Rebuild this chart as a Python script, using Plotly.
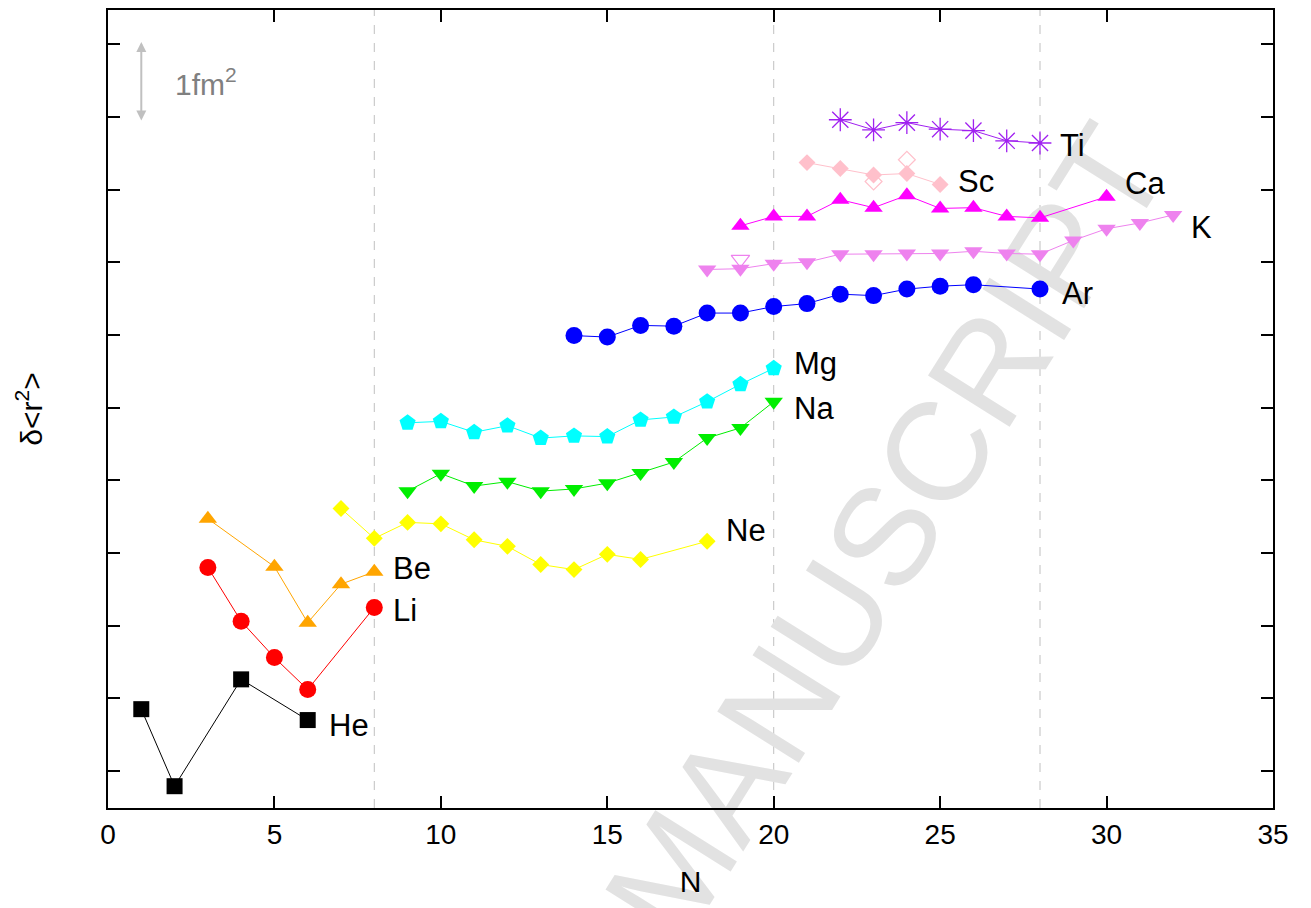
import plotly.graph_objects as go

# ---- data (N, delta<r^2> in tick units) ----
he_n = [1, 2, 4, 6]
he_y = [0.85, -0.21, 1.26, 0.70]
li_n = [3, 4, 5, 6, 8]
li_y = [2.80, 2.06, 1.56, 1.12, 2.25]
be_n = [3, 5, 6, 7, 8]
be_y = [3.47, 2.81, 2.04, 2.57, 2.74]
ne_n = [7, 8, 9, 10, 11, 12, 13, 14, 15, 16, 18]
ne_y = [3.61, 3.20, 3.42, 3.40, 3.18, 3.09, 2.84, 2.77, 2.98, 2.91, 3.16]
na_n = [9, 10, 11, 12, 13, 14, 15, 16, 17, 18, 19, 20]
na_y = [3.85, 4.09, 3.92, 3.98, 3.85, 3.88, 3.96, 4.10, 4.25, 4.58, 4.72, 5.08]
mg_n = [9, 10, 11, 12, 13, 14, 15, 16, 17, 18, 19, 20]
mg_y = [4.79, 4.81, 4.66, 4.75, 4.58, 4.61, 4.60, 4.83, 4.87, 5.08, 5.32, 5.54]
ar_n = [14, 15, 16, 17, 18, 19, 20, 21, 22, 23, 24, 25, 26, 28]
ar_y = [5.99, 5.97, 6.13, 6.12, 6.30, 6.30, 6.39, 6.43, 6.56, 6.54, 6.63, 6.67, 6.69, 6.63]
k_n = [18, 19, 20, 21, 22, 23, 24, 25, 26, 27, 28, 29, 30, 31, 32]
k_y = [6.90, 6.91, 6.98, 7.00, 7.11, 7.11, 7.12, 7.12, 7.15, 7.12, 7.11, 7.30, 7.46, 7.54, 7.65]
k_open_n = [19]
k_open_y = [7.04]
ca_n = [19, 20, 21, 22, 23, 24, 25, 26, 27, 28, 30]
ca_y = [7.50, 7.63, 7.63, 7.86, 7.75, 7.92, 7.74, 7.75, 7.63, 7.61, 7.90]
sc_n = [21, 22, 23, 24, 25]
sc_y = [8.37, 8.29, 8.20, 8.22, 8.07]
sc_open_n = [23, 24]
sc_open_y = [8.11, 8.41]
ti_n = [22, 23, 24, 25, 26, 27, 28]
ti_y = [8.96, 8.82, 8.92, 8.83, 8.81, 8.67, 8.64]

x_ticks = [0, 5, 10, 15, 20, 25, 30, 35]
y_ticks = [0, 1, 2, 3, 4, 5, 6, 7, 8, 9, 10]
shell_closures = [8, 20, 28]

FONT = "Liberation Sans, Arial, sans-serif"

series = [
    # name, n, y, color, symbol, size, label shift (x, y)
    ("He", he_n, he_y, "#000000", "square", 16, (19, -5)),
    ("Li", li_n, li_y, "#ff0000", "circle", 17, (17, -3)),
    ("Be", be_n, be_y, "#ffa500", "triangle-up", 16, (17, 3)),
    ("Ne", ne_n, ne_y, "#ffff00", "diamond", 13, (17, 11)),
    ("Na", na_n, na_y, "#00ee00", "triangle-down", 16, (18, -7)),
    ("Mg", mg_n, mg_y, "#00ffff", "pentagon", 17, (18, 5)),
    ("Ar", ar_n, ar_y, "#0000ff", "circle", 17, (20, -4)),
    ("K", k_n, k_y, "#ee82ee", "triangle-down", 16, (16, -13)),
    ("Ca", ca_n, ca_y, "#ff00ff", "triangle-up", 16, (16, 13)),
    ("Sc", sc_n, sc_y, "#ffc0cb", "diamond", 13, (16, 3)),
    ("Ti", ti_n, ti_y, "#a020f0", "asterisk", 19, (18, -2)),
]

fig = go.Figure()
annotations = []
for name, n, y, col, sym, sz, (dx, dy) in series:
    if sym == "asterisk":
        marker = dict(symbol=sym, size=sz, color=col, line=dict(color=col, width=1.3))
    else:
        marker = dict(symbol=sym, size=sz, color=col, line=dict(width=0))
    fig.add_trace(go.Scatter(x=n, y=y, mode="lines+markers", name=name,
                             line=dict(color=col, width=1), marker=marker,
                             showlegend=False))
    annotations.append(dict(x=n[-1], y=y[-1], xref="x", yref="y", text=name,
                            showarrow=False, xanchor="left", yanchor="middle",
                            xshift=dx, yshift=dy,
                            font=dict(family=FONT, size=31, color="#000000")))

fig.add_trace(go.Scatter(x=k_open_n, y=k_open_y, mode="markers", showlegend=False,
                         marker=dict(symbol="triangle-down-open", size=16, color="#ee82ee",
                                     line=dict(color="#ee82ee", width=1.2))))
fig.add_trace(go.Scatter(x=sc_open_n, y=sc_open_y, mode="markers", showlegend=False,
                         marker=dict(symbol="diamond-open", size=13, color="#ffc0cb",
                                     line=dict(color="#ffc0cb", width=1.2))))

# scale arrow 1 fm^2
annotations.append(dict(x=1, y=8.95, ax=1, ay=10.05, xref="x", yref="y", axref="x", ayref="y",
                        text="", showarrow=True, arrowhead=2, arrowside="end+start",
                        arrowsize=1, arrowwidth=2, arrowcolor="#c0c0c0"))
annotations.append(dict(x=1.95, y=9.48, xref="x", yref="y", text="1fm<sup>2</sup>",
                        showarrow=False, xanchor="left", yanchor="middle",
                        font=dict(family=FONT, size=30, color="#808080")))

shapes = []
for xv in shell_closures:
    shapes.append(dict(type="line", x0=xv, x1=xv, y0=0, y1=1, xref="x", yref="paper",
                       line=dict(color="#c0c0c0", width=1, dash="dash"), layer="below"))

# plot area on screen (page has 8px body margin)
PL, PR, PT, PB = 108, 1273, 8, 808


def px(x):
    return (x - PL) / (PR - PL)


def py(y):
    return (PB - y) / (PB - PT)


# watermark
shapes.append(dict(type="line", xref="paper", yref="paper",
                   x0=px(716), y0=py(779), x1=px(1034), y1=py(271),
                   line=dict(color="rgba(0,0,0,0)", width=0), layer="below",
                   label=dict(text="MANUSCRIPT", textposition="middle", yanchor="middle",
                              padding=0,
                              font=dict(family=FONT, size=140, color="#e2e2e2"))))

axis_common = dict(showline=True, linecolor="#000000", linewidth=2, mirror="ticks",
                   ticks="inside", ticklen=12, tickwidth=2, tickcolor="#000000",
                   showgrid=False, zeroline=False)

fig.update_layout(
    width=1311, height=908,
    margin=dict(l=100, r=46, t=0, b=108),
    plot_bgcolor="white", paper_bgcolor="white",
    font=dict(family=FONT, size=28, color="#000000"),
    xaxis=dict(range=[0, 35], tickvals=x_ticks,
               title=dict(text="N", font=dict(size=30), standoff=22),
               tickfont=dict(size=28), **axis_common),
    yaxis=dict(range=[-0.51, 10.47], tickvals=y_ticks, showticklabels=False,
               title=dict(text="δ&lt;r<sup>2</sup>&gt;", font=dict(size=30), standoff=55),
               **axis_common),
    annotations=annotations,
    shapes=shapes,
)

fig.write_html("out.html")
